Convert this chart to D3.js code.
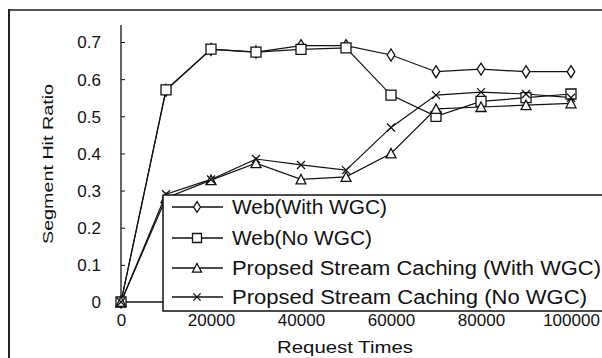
<!DOCTYPE html>
<html><head><meta charset="utf-8">
<script src="https://cdn.jsdelivr.net/npm/d3@7"></script>
<style>body{margin:0;background:#fff}svg{display:block}text{font-family:"Liberation Sans",Arial,sans-serif;fill:#111}</style>
</head><body><svg id="c" width="602" height="358"></svg>
<script>
const requestTimes = [0,10000,20000,30000,40000,50000,60000,70000,80000,90000,100000];
const webWithWGC   = [0,0.57,0.68,0.673,0.69,0.69,0.665,0.62,0.627,0.62,0.62];
const webNoWGC     = [0,0.571,0.681,0.673,0.68,0.684,0.557,0.50,0.54,0.55,0.56];
const streamWithWGC= [0,0.28,0.328,0.374,0.33,0.337,0.40,0.52,0.525,0.53,0.535];
const streamNoWGC  = [0,0.29,0.33,0.385,0.369,0.355,0.47,0.557,0.565,0.56,0.55];
const seriesNames  = ["Web(With WGC)","Web(No WGC)","Propsed Stream Caching (With WGC)","Propsed Stream Caching (No WGC)"];
const yTicks = [0,0.1,0.2,0.3,0.4,0.5,0.6,0.7];
const xTicks = [0,20000,40000,60000,80000,100000];

const svg = d3.select("#c");
svg.append("rect").attr("width",602).attr("height",358).attr("fill","#fff");
// outer frame
svg.append("line").attr("x1",8).attr("x2",602).attr("y1",10).attr("y2",10).attr("stroke","#555").attr("stroke-width",2);
svg.append("line").attr("x1",9).attr("x2",9).attr("y1",9).attr("y2",358).attr("stroke","#222").attr("stroke-width",2);

const x = d3.scaleLinear().domain([0,100000]).range([121,571]);
const y = d3.scaleLinear().domain([0,0.7]).range([302,42]);

// axes
const yAxis = d3.axisLeft(y).tickValues(yTicks).tickSize(-4).tickPadding(0).tickFormat(d=>d===0?"0":d3.format(".1f")(d));
const gy = svg.append("g").attr("transform","translate(121,0)").call(yAxis);
gy.select(".domain").remove();
gy.selectAll(".tick line").attr("stroke","#111");
gy.selectAll(".tick text").attr("x",-20).attr("dy","0.35em").attr("font-size",17).style("font-family",'"Liberation Sans",Arial,sans-serif').attr("fill","#111");
svg.append("line").attr("x1",121).attr("x2",121).attr("y1",25).attr("y2",302).attr("stroke","#111").attr("stroke-width",1.3);

const xAxis = d3.axisBottom(x).tickValues(xTicks).tickSize(0).tickPadding(0).tickFormat(d3.format("d"));
const gx = svg.append("g").attr("transform","translate(0,302)").call(xAxis);
gx.select(".domain").remove();
gx.selectAll(".tick text").attr("y",24).attr("dy",0).attr("font-size",17).style("font-family",'"Liberation Sans",Arial,sans-serif').attr("fill","#111");
svg.append("line").attr("x1",121).attr("x2",575).attr("y1",302).attr("y2",302).attr("stroke","#111").attr("stroke-width",1.3);

// axis titles
svg.append("text").attr("transform","translate(53,164) rotate(-90)").attr("text-anchor","middle")
  .attr("font-size",15).attr("textLength",160).attr("lengthAdjust","spacingAndGlyphs").text("Segment Hit Ratio");
svg.append("text").attr("x",345).attr("y",353).attr("text-anchor","middle")
  .attr("font-size",17).attr("textLength",136).attr("lengthAdjust","spacingAndGlyphs").text("Request Times");

// markers
const markers = [
  s => `M0,${-6*s}L${3.8*s},0L0,${6*s}L${-3.8*s},0Z`,
  s => `M${-5*s},${-5*s}H${5*s}V${5*s}H${-5*s}Z`,
  s => `M0,${-5*s}L${5*s},${4.5*s}H${-5*s}Z`,
  s => `M${-4*s},${-4*s}L${4*s},${4*s}M${4*s},${-4*s}L${-4*s},${4*s}`
];
const data = [webWithWGC, webNoWGC, streamWithWGC, streamNoWGC];
const line = d3.line().x((d,i)=>x(requestTimes[i])).y(d=>y(d));
data.forEach((vals,k)=>{
  svg.append("path").attr("d",line(vals)).attr("fill","none").attr("stroke","#111").attr("stroke-width",1.2);
});
data.forEach((vals,k)=>{
  svg.append("g").selectAll("path").data(vals).join("path")
    .attr("transform",(d,i)=>`translate(${x(requestTimes[i])},${y(d)})`)
    .attr("d",markers[k](1)).attr("fill",k===3?"none":"#fff").attr("stroke","#111").attr("stroke-width",1.3);
});

// legend
const lg = svg.append("g");
lg.append("rect").attr("x",163).attr("y",195).attr("width",460).attr("height",116).attr("fill","#fff").attr("stroke","#111").attr("stroke-width",1.5);
const rowY = [207,238,268,297];
const textW = [155,140,369,355];
seriesNames.forEach((n,k)=>{
  lg.append("line").attr("x1",172).attr("x2",223).attr("y1",rowY[k]).attr("y2",rowY[k]).attr("stroke","#111").attr("stroke-width",1.3);
  lg.append("path").attr("transform",`translate(197,${rowY[k]})`).attr("d",markers[k](0.9))
    .attr("fill",k===3?"none":"#fff").attr("stroke","#111").attr("stroke-width",1.3);
  lg.append("text").attr("x",232).attr("y",rowY[k]+7).attr("font-size",20)
    .attr("textLength",textW[k]).attr("lengthAdjust","spacingAndGlyphs").text(n);
});
</script></body></html>
